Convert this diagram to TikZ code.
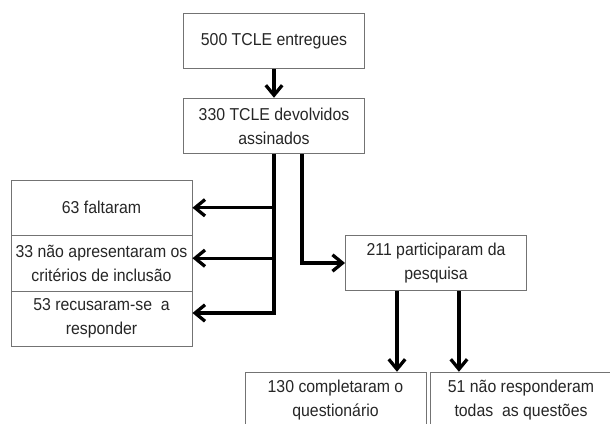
\documentclass[tikz,border=0pt]{standalone}
\usepackage{fontspec}
\setmainfont{Liberation Sans}[FakeStretch=0.92]
\usetikzlibrary{arrows.meta}

\begin{document}
\begin{tikzpicture}[x=0.03cm,y=-0.03cm,>={Straight Barb[length=8.5pt,width=14pt]},
  caixa/.style={draw=black!55,line width=0.8pt,text=black!85,
    minimum width=5.43cm,minimum height=1.665cm,inner sep=1pt,
    align=center,font=\fontsize{14.7}{20.5}\selectfont},
  seta/.style={->,line width=2.8pt}]
\clip (0,0) rectangle (610,424);
\node (entregues)    at (274,41)      [caixa] {500 TCLE entregues};
\node (devolvidos)   at (274,126)     [caixa] {330 TCLE devolvidos\\assinados};
\node (faltaram)     at (101.5,207.75) [caixa] {63 faltaram};
\node (criterios)    at (101.5,263.25) [caixa] {33 não apresentaram os\\critérios de inclusão};
\node (recusaram)    at (101.5,318.75) [caixa] {53 recusaram-se\ \ a\\responder};
\node (participaram) at (436,263)     [caixa] {211 participaram da\\pesquisa};
\node (completaram)  at (335.5,400)   [caixa] {130 completaram o\\questionário};
\node (naoresp)      at (521,400)     [caixa] {51 não responderam\\todas\ \ as questões};
\coordinate (ramo)  at ([xshift=24pt]devolvidos.south);
\coordinate (saida1) at ([xshift=-33.3pt]participaram.south);
\coordinate (saida2) at ([xshift=19.6pt]participaram.south);
\draw [seta] (entregues) -- (devolvidos);
\draw [seta] (devolvidos.south) |- (faltaram.east);
\draw [seta] (devolvidos.south) |- ([yshift=4.3pt]criterios.east);
\draw [seta] (devolvidos.south) |- ([yshift=4.9pt]recusaram.east);
\draw [seta] (ramo) |- (participaram.west);
\draw [seta] (saida1) -- (saida1 |- completaram.north);
\draw [seta] (saida2) -- (saida2 |- naoresp.north);
\end{tikzpicture}
\end{document}
